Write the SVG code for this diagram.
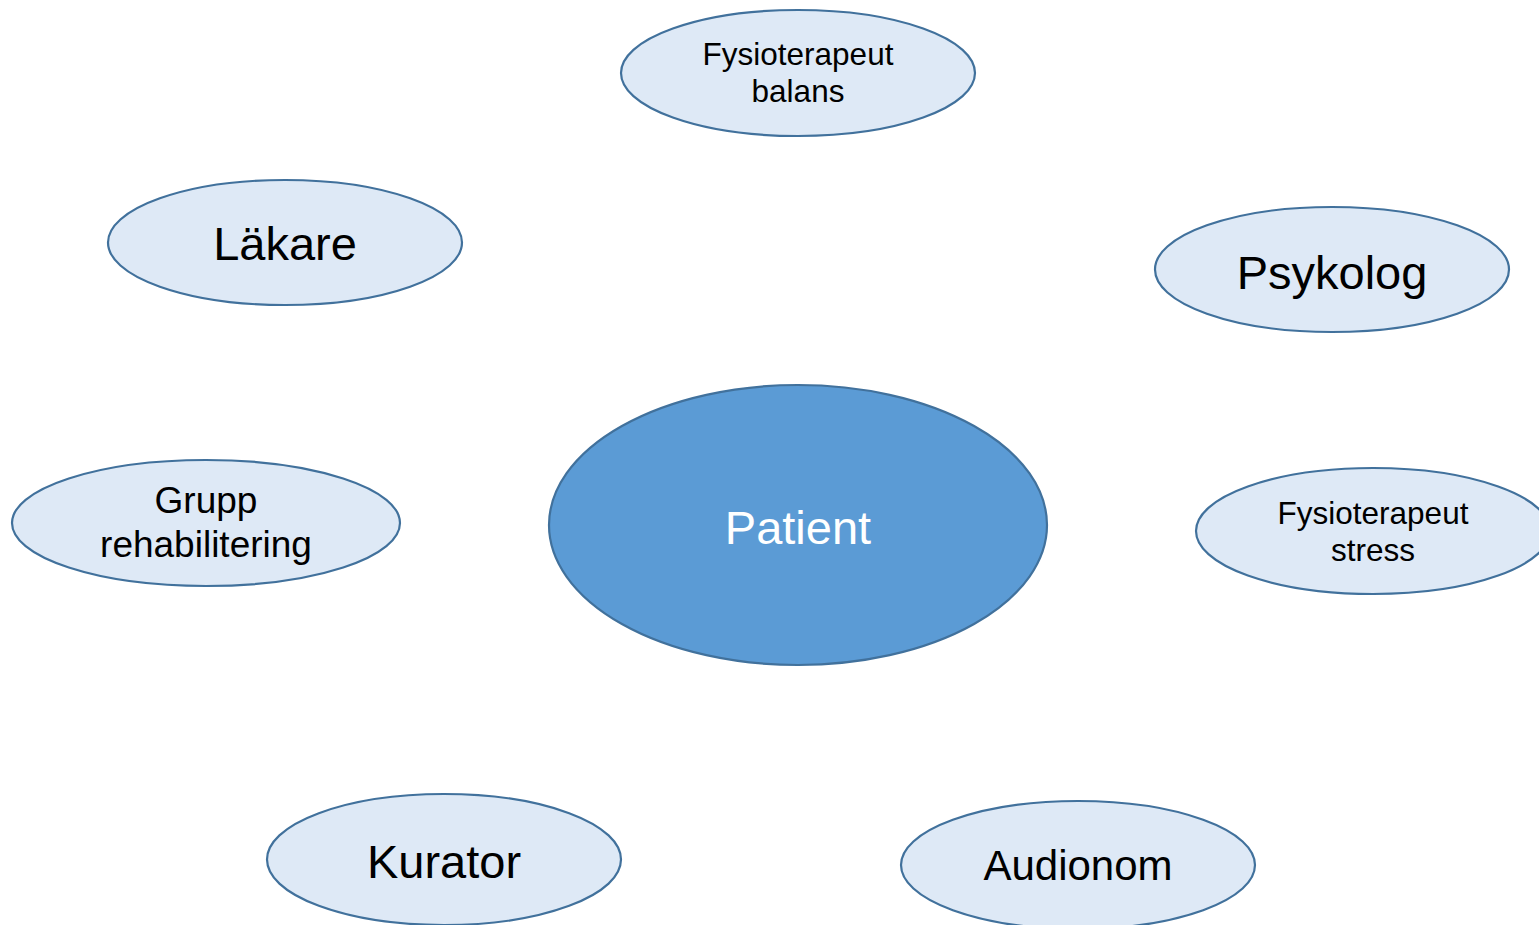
<svg xmlns="http://www.w3.org/2000/svg" width="1539" height="925" viewBox="0 0 1539 925">
<style>
.n{fill:#dee9f6;stroke:#41719c;stroke-width:2.2}
.c{fill:#5b9bd5;stroke:#41719c;stroke-width:2.2}
text{font-family:"Liberation Sans",Arial,sans-serif;text-anchor:middle;fill:#000}
</style>
<rect width="1539" height="925" fill="#fff"/>
<g id="connectors"></g>
<g id="patient"><ellipse class="c" cx="798" cy="525" rx="249" ry="140"/><text x="798" y="544" font-size="47" style="fill:#fff">Patient</text></g>
<g id="fysio-balans"><ellipse class="n" cx="798" cy="73" rx="177" ry="63"/><text x="798" y="65" font-size="31.5">Fysioterapeut</text><text x="798" y="102" font-size="31.5">balans</text></g>
<g id="lakare"><ellipse class="n" cx="285" cy="242.5" rx="177" ry="62.5"/><text x="285" y="260" font-size="47">Läkare</text></g>
<g id="psykolog"><ellipse class="n" cx="1332" cy="269.5" rx="177" ry="62.5"/><text x="1332" y="289" font-size="47">Psykolog</text></g>
<g id="grupp"><ellipse class="n" cx="206" cy="523" rx="194" ry="63"/><text x="206" y="513" font-size="37">Grupp</text><text x="206" y="557" font-size="37">rehabilitering</text></g>
<g id="fysio-stress"><ellipse class="n" cx="1373" cy="531" rx="177" ry="63"/><text x="1373" y="524" font-size="31.5">Fysioterapeut</text><text x="1373" y="561" font-size="31.5">stress</text></g>
<g id="kurator"><ellipse class="n" cx="444" cy="859.5" rx="177" ry="65.5"/><text x="444" y="878" font-size="47">Kurator</text></g>
<g id="audionom"><ellipse class="n" cx="1078" cy="865" rx="177" ry="64"/><text x="1078" y="880" font-size="42">Audionom</text></g>
</svg>
